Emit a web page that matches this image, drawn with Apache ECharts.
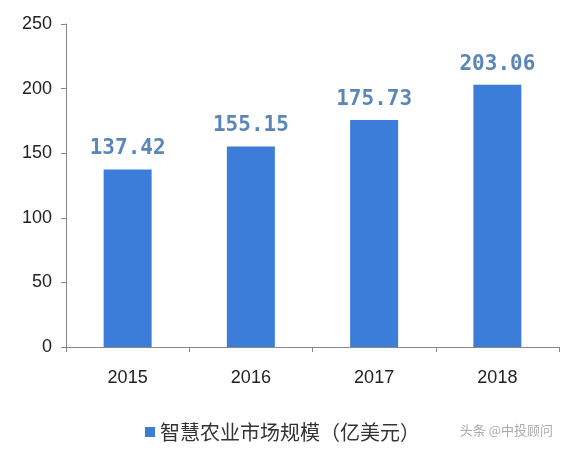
<!DOCTYPE html>
<html>
<head>
<meta charset="UTF-8">
<script src="https://cdn.jsdelivr.net/npm/echarts@6/dist/echarts.min.js"></script>
<style>html,body{margin:0;padding:0;background:#fff}#c{width:561px;height:451px}</style>
</head>
<body>
<div id="c"></div>
<script>
const years = ['2015', '2016', '2017', '2018'];
const values = [137.42, 155.15, 175.73, 203.06];
const seriesName = '智慧农业市场规模（亿美元）';

const chart = echarts.init(document.getElementById('c'));
chart.setOption({
  animation: false,
  grid: { left: 66, right: 2, top: 24, bottom: 104 },
  legend: {
    bottom: 4, left: 140,
    itemWidth: 10, itemHeight: 10, icon: 'rect',
    textStyle: { fontSize: 20, color: '#333', fontFamily: 'Noto Sans CJK SC' },
    data: [seriesName]
  },
  xAxis: {
    type: 'category', data: years,
    axisLine: { lineStyle: { color: '#888' } },
    axisTick: { show: true, lineStyle: { color: '#888' } },
    axisLabel: { fontSize: 18, color: '#222', margin: 22 }
  },
  yAxis: {
    type: 'value', min: 0, max: 250, interval: 50,
    axisLine: { show: true, lineStyle: { color: '#888' } },
    axisTick: { show: true, lineStyle: { color: '#888' } },
    splitLine: { show: false },
    axisLabel: { fontSize: 18, color: '#222', margin: 14 }
  },
  series: [{
    name: seriesName, type: 'bar', data: values, barWidth: 48,
    itemStyle: { color: '#3b7dd8' },
    label: {
      show: true, position: 'top', distance: 10,
      fontSize: 21, fontWeight: 'bold', color: '#5b86b8',
      fontFamily: 'DejaVu Sans Mono', formatter: p => p.value.toFixed(2)
    }
  }],
  graphic: [{
    type: 'text', right: 8, bottom: 14,
    style: { text: '头条 @中投顾问', fontSize: 13, fill: '#aaa', fontFamily: 'Noto Sans CJK SC' }
  }]
});
</script>
</body>
</html>
